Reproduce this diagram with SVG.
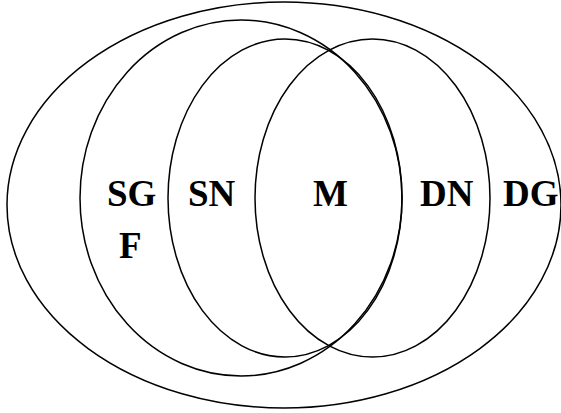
<svg xmlns="http://www.w3.org/2000/svg" width="561" height="413" viewBox="0 0 561 413">
<style>
.e{fill:none;stroke:#000;stroke-width:1.5}
.t{font-family:"Liberation Serif","Times New Roman",serif;font-weight:bold;font-size:37px;fill:#000}
</style>
<rect width="561" height="413" fill="#fff"/>
<g id="DG"><ellipse class="e" cx="284" cy="205" rx="277" ry="203"/></g>
<g id="SG"><ellipse class="e" cx="241" cy="198" rx="161" ry="178"/></g>
<g id="SN"><ellipse class="e" cx="285" cy="198" rx="117" ry="159"/></g>
<g id="DN"><ellipse class="e" cx="372.5" cy="198" rx="117.5" ry="159"/></g>
<g id="connectors"></g>
<g id="labels">
<text class="t" x="107" y="206">SG</text>
<text class="t" x="119" y="258">F</text>
<text class="t" x="188" y="206">SN</text>
<text class="t" x="313" y="206">M</text>
<text class="t" x="420" y="206">DN</text>
<text class="t" x="503" y="206">DG</text>
</g>
</svg>
